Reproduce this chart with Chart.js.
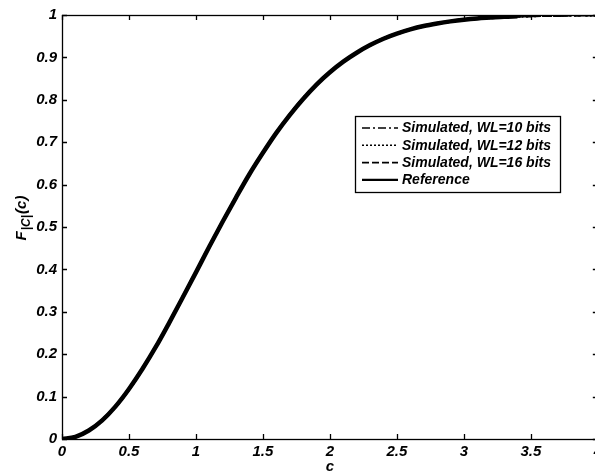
<!DOCTYPE html>
<html>
<head>
<meta charset="utf-8">
<script src="https://cdn.jsdelivr.net/npm/chart.js@4/dist/chart.umd.min.js"></script>
<style>
  html, body { margin: 0; padding: 0; background: #fff; overflow: hidden; width: 595px; height: 475px; }
  #wrap { position: absolute; left: 0; top: 0; width: 606px; height: 475px; }
</style>
</head>
<body>
<div id="wrap"><canvas id="cdf" width="606" height="475"></canvas></div>
<script>
// Sample points along c
const cValues = [0, 0.1, 0.2, 0.3, 0.4, 0.5, 0.6, 0.7, 0.8, 0.9,
                 1.0, 1.1, 1.2, 1.3, 1.4, 1.5, 1.6, 1.7, 1.8, 1.9,
                 2.0, 2.1, 2.2, 2.3, 2.4, 2.5, 2.6, 2.7, 2.8, 2.9,
                 3.0, 3.1, 3.2, 3.3, 3.4, 3.5, 3.6, 3.7, 3.8, 3.9, 4.0];

// Empirical CDF, word length 10 bits
const sim10 = [0, 0.005, 0.020, 0.045, 0.077, 0.118, 0.166, 0.218, 0.274, 0.334,
               0.394, 0.454, 0.513, 0.571, 0.625, 0.676, 0.722, 0.765, 0.803, 0.836,
               0.865, 0.890, 0.911, 0.929, 0.944, 0.956, 0.966, 0.974, 0.980, 0.985,
               0.989, 0.992, 0.994, 0.996, 0.997, 0.998, 0.999, 0.999, 1.0, 1.0, 1.0];

// Empirical CDF, word length 12 bits
const sim12 = [0, 0.005, 0.020, 0.044, 0.077, 0.117, 0.165, 0.217, 0.274, 0.333,
               0.393, 0.454, 0.513, 0.570, 0.625, 0.675, 0.722, 0.764, 0.802, 0.836,
               0.865, 0.890, 0.911, 0.929, 0.944, 0.956, 0.966, 0.974, 0.980, 0.985,
               0.989, 0.992, 0.994, 0.996, 0.997, 0.998, 0.999, 0.999, 1.0, 1.0, 1.0];

// Empirical CDF, word length 16 bits
const sim16 = [0, 0.005, 0.020, 0.044, 0.077, 0.118, 0.165, 0.217, 0.274, 0.333,
               0.393, 0.454, 0.513, 0.570, 0.625, 0.675, 0.722, 0.764, 0.802, 0.836,
               0.865, 0.890, 0.911, 0.929, 0.944, 0.956, 0.966, 0.974, 0.980, 0.985,
               0.989, 0.992, 0.994, 0.996, 0.997, 0.998, 0.999, 0.999, 1.0, 1.0, 1.0];

// Reference CDF (plotted up to c = 3.4)
const reference = [0, 0.005, 0.020, 0.044, 0.077, 0.118, 0.165, 0.217, 0.274, 0.333,
                   0.393, 0.454, 0.513, 0.570, 0.625, 0.675, 0.722, 0.764, 0.802, 0.836,
                   0.865, 0.890, 0.911, 0.929, 0.944, 0.956, 0.966, 0.974, 0.980, 0.985,
                   0.989, 0.992, 0.994, 0.996, 0.997];

const seriesLabels = ['Simulated, WL=10 bits', 'Simulated, WL=12 bits', 'Simulated, WL=16 bits', 'Reference'];
const xTicks = [0, 0.5, 1, 1.5, 2, 2.5, 3, 3.5, 4];
const yTicks = [0, 0.1, 0.2, 0.3, 0.4, 0.5, 0.6, 0.7, 0.8, 0.9, 1];

const FONT = '"Liberation Sans", Arial, Helvetica, sans-serif';

function pts(ys) {
  return ys.map((y, i) => ({ x: cValues[i], y: y }));
}

// Frame with inward ticks on all four sides, axis titles and the boxed legend
const decorations = {
  id: 'decorations',
  afterDatasetsDraw(chart) {
    const { ctx, chartArea: a, scales } = chart;
    const xs = scales.x, ys = scales.y;
    ctx.save();
    ctx.strokeStyle = '#000';
    ctx.lineWidth = 1.3;
    ctx.setLineDash([]);
    ctx.strokeRect(a.left + 0.5, a.top + 0.5, a.right - a.left, a.bottom - a.top);

    const tl = 5;
    ctx.beginPath();
    xTicks.forEach(v => {
      const px = Math.round(xs.getPixelForValue(v)) + 0.5;
      ctx.moveTo(px, a.bottom); ctx.lineTo(px, a.bottom - tl);
      ctx.moveTo(px, a.top); ctx.lineTo(px, a.top + tl);
    });
    yTicks.forEach(v => {
      const py = Math.round(ys.getPixelForValue(v)) + 0.5;
      ctx.moveTo(a.left, py); ctx.lineTo(a.left + tl, py);
      ctx.moveTo(a.right, py); ctx.lineTo(a.right - tl, py);
    });
    ctx.stroke();

    // x-axis title
    ctx.fillStyle = '#000';
    ctx.font = 'italic bold 15px ' + FONT;
    ctx.textAlign = 'center';
    ctx.textBaseline = 'middle';
    ctx.fillText('c', (a.left + a.right) / 2, 467);

    // y-axis title: F_{|C|}(c), rotated
    ctx.save();
    ctx.translate(22, 218);
    ctx.rotate(-Math.PI / 2);
    const mainF = 'italic bold 15px ' + FONT;
    const subF = 'italic bold 12px ' + FONT;
    ctx.font = mainF; const w1 = ctx.measureText('F').width;
    ctx.font = subF; const w2 = ctx.measureText('|C|').width;
    ctx.font = mainF; const w3 = ctx.measureText('(c)').width;
    let x0 = -(w1 + w2 + w3 + 2) / 2;
    ctx.textAlign = 'left';
    ctx.textBaseline = 'alphabetic';
    ctx.font = mainF; ctx.fillText('F', x0, 4); x0 += w1 + 1;
    ctx.font = subF; ctx.fillText('|C|', x0, 8); x0 += w2 + 1;
    ctx.font = mainF; ctx.fillText('(c)', x0, 4);
    ctx.restore();

    // legend
    const bx = 355, by = 116, bw = 205, bh = 76;
    ctx.fillStyle = '#fff';
    ctx.fillRect(bx, by, bw, bh);
    ctx.lineWidth = 1.3;
    ctx.strokeStyle = '#000';
    ctx.strokeRect(bx + 0.5, by + 0.5, bw, bh);
    chart.data.datasets.forEach((ds, i) => {
      const y = 128 + i * 17.3;
      ctx.beginPath();
      ctx.lineWidth = ds.legendWidth;
      ctx.setLineDash(ds.borderDash || []);
      ctx.moveTo(362, y); ctx.lineTo(398, y);
      ctx.stroke();
      ctx.setLineDash([]);
      ctx.fillStyle = '#000';
      ctx.font = 'italic bold 14px ' + FONT;
      ctx.textAlign = 'left';
      ctx.textBaseline = 'middle';
      ctx.fillText(ds.label, 402, y + 0.5);
    });
    ctx.restore();
  }
};

const mkSet = (label, ys, dash, width, legendWidth) => ({
  label, data: pts(ys), borderColor: '#000', backgroundColor: '#000',
  borderWidth: width, borderDash: dash, legendWidth,
  pointRadius: 0, fill: false, tension: 0.35, cubicInterpolationMode: 'monotone'
});

new Chart(document.getElementById('cdf'), {
  type: 'line',
  data: {
    datasets: [
      mkSet(seriesLabels[0], sim10, [8, 3, 2, 3], 3, 1.6),
      mkSet(seriesLabels[1], sim12, [2, 2], 3, 1.6),
      mkSet(seriesLabels[2], sim16, [7, 3], 3, 1.6),
      mkSet(seriesLabels[3], reference, [], 4.5, 2.2)
    ]
  },
  options: {
    responsive: false,
    animation: false,
    devicePixelRatio: 1,
    layout: { padding: { left: 0, top: 15, right: 7, bottom: 0 } },
    plugins: { legend: { display: false }, tooltip: { enabled: false } },
    scales: {
      x: {
        type: 'linear', min: 0, max: 4,
        grid: { display: false, drawTicks: false },
        border: { display: false },
        afterFit: s => { s.height = 36; },
        afterBuildTicks: s => { s.ticks = xTicks.map(v => ({ value: v })); },
        ticks: {
          color: '#000', padding: 4, maxRotation: 0, autoSkip: false,
          font: { family: FONT, size: 15, style: 'italic', weight: 'bold' },
          callback: v => String(v)
        }
      },
      y: {
        type: 'linear', min: 0, max: 1,
        grid: { display: false, drawTicks: false },
        border: { display: false },
        afterFit: s => { s.width = 62; },
        afterBuildTicks: s => { s.ticks = yTicks.map(v => ({ value: v })); },
        ticks: {
          color: '#000', padding: 5, autoSkip: false,
          font: { family: FONT, size: 15, style: 'italic', weight: 'bold' },
          callback: v => String(v)
        }
      }
    }
  },
  plugins: [decorations]
});
</script>
</body>
</html>
